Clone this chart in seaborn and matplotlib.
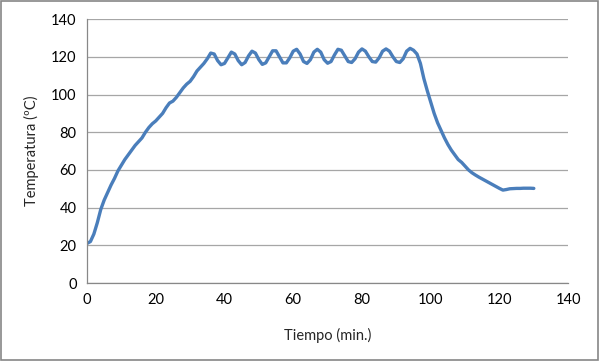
import matplotlib
matplotlib.use("Agg")
import matplotlib.pyplot as plt
import matplotlib.patches as patches
import pandas as pd
import seaborn as sns

# tiempo en minutos, temperatura en grados C
tiempo = list(range(0, 131))
temperatura = [
    21, 22, 26, 32, 39, 44, 48, 52, 55.5, 59.5,
    62.5, 65.5, 68, 70.5, 73, 75, 77, 80, 82.5, 84.5,
    86, 88, 90, 93, 95.5, 96.5, 98.5, 101, 103.5, 105.5,
    107, 109.5, 112.5, 114.5, 116.5, 119, 122, 121.5, 118, 115.8,
    116.5, 119.5, 122.5, 121.5, 118, 115.8, 117, 120.5, 123, 122,
    118.5, 116, 116.8, 120, 123.2, 123.2, 120, 116.8, 116.8, 119.5,
    123, 124, 121.5, 117.5, 116.5, 118.5, 122.5, 124, 122.5, 118.5,
    116.6, 117.5, 121, 124, 123.5, 120.5, 117.5, 117, 119, 122.5,
    124.2, 123, 120, 117.5, 117.2, 119.5, 123, 124.2, 123, 120,
    117.5, 117, 119, 123, 124.5, 123.5, 121.5, 116.5, 108.5, 102,
    96, 90, 85, 81, 77, 73.5, 70.5, 68, 65.5, 64,
    62, 60, 58.5, 57.3, 56.2, 55.2, 54.2, 53.2, 52.2, 51.2,
    50.2, 49.3, 49.6, 50, 50.1, 50.2, 50.2, 50.3, 50.3, 50.3,
    50.2,
]
x_ticks = [0, 20, 40, 60, 80, 100, 120, 140]
y_ticks = [0, 20, 40, 60, 80, 100, 120, 140]

df = pd.DataFrame({"Tiempo": tiempo, "Temperatura": temperatura})

sns.set_style("white")
plt.rcParams["font.family"] = ["Lato", "DejaVu Sans"]

fig = plt.figure(figsize=(6, 3.61), dpi=100)
ax = fig.add_axes([0.145, 0.216, 0.802, 0.731])

sns.lineplot(data=df, x="Tiempo", y="Temperatura", ax=ax,
             color="#4A7EBB", linewidth=2.4, solid_joinstyle="round",
             solid_capstyle="round")

ax.set_xlim(0, 140)
ax.set_ylim(0, 140)
ax.set_xticks(x_ticks)
ax.set_yticks(y_ticks)
ax.tick_params(axis="both", labelsize=10.5, colors="#000000", length=4,
               width=0.8, direction="out")
ax.tick_params(axis="both", color="#888888")
ax.yaxis.grid(True, color="#a6a6a6", linewidth=0.9)
ax.set_axisbelow(True)

for side in ["top", "right"]:
    ax.spines[side].set_visible(False)
for side in ["left", "bottom"]:
    ax.spines[side].set_color("#888888")
    ax.spines[side].set_linewidth(0.9)

ax.set_xlabel("Tiempo (min.)", fontsize=10.5, labelpad=15)
ax.set_ylabel("Temperatura (ºC)", fontsize=10.5, labelpad=9)

# borde del area del grafico
fig.patches.append(patches.Rectangle((0.002, 0.003), 0.995, 0.993,
                                     transform=fig.transFigure, fill=False,
                                     edgecolor="#868686", linewidth=1.2))

fig.savefig("out.png", dpi=100)
